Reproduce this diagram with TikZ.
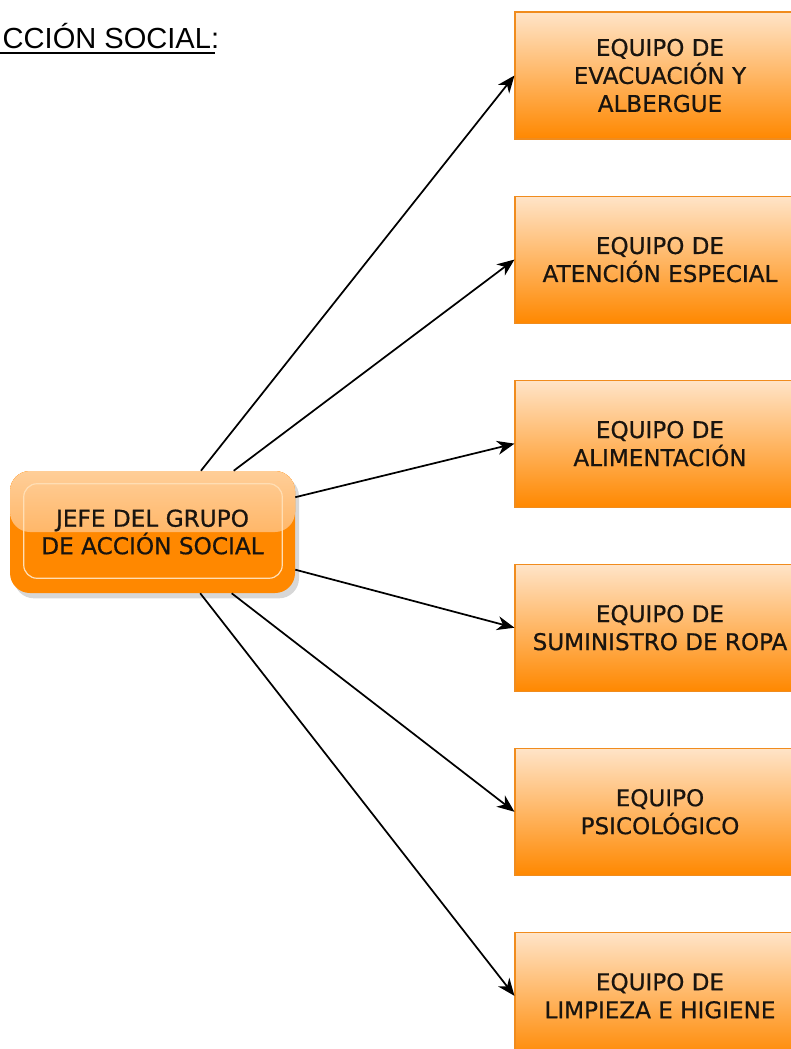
\documentclass[tikz,border=0pt]{standalone}
\usepackage{fontspec}
\setmainfont{DejaVu Sans}
\newfontfamily\cajafont{DejaVu Sans}[FakeBold=0.6]
\newfontfamily\arialfont{Liberation Sans}
\usetikzlibrary{arrows.meta,positioning,shadows}
\definecolor{eqborde}{RGB}{240,140,30}
\definecolor{eqclaro}{RGB}{255,228,200}
\definecolor{eqnaranja}{RGB}{255,136,0}
\definecolor{jfclaro}{RGB}{255,206,152}
\definecolor{jfmedio}{RGB}{255,160,58}
\definecolor{jfborde}{RGB}{255,222,180}
\definecolor{texto}{RGB}{25,20,15}

\begin{document}
\begin{tikzpicture}[x=0.75pt,y=-0.75pt,node distance=42pt,
      equipo/.style={draw=eqborde,line width=.8pt,top color=eqclaro,bottom color=eqnaranja,
        minimum width=217.5pt,minimum height=95.25pt,align=center,text=texto,
        font=\cajafont\fontsize{17.3}{21}\selectfont},
      jefe/.style={rounded corners=15pt,fill=eqnaranja,minimum width=213.75pt,minimum height=91.5pt,
        align=center,text=texto,font=\cajafont\fontsize{17.4}{19}\selectfont,
        drop shadow={shadow xshift=3pt,shadow yshift=-4pt,fill=black!35,opacity=.45},
        path picture={\fill[top color=jfclaro,bottom color=jfmedio]
          (path picture bounding box.north west) rectangle (path picture bounding box.east);}},
      flecha/.style={-{Stealth[length=13pt,width=10.5pt,inset=4pt]},line width=1.3pt}]
  \useasboundingbox (0,0) rectangle (790,1049);
  \node[anchor=base west,font=\arialfont\fontsize{21.8}{25}\selectfont] (titulo) at (-2,49)
    {CCIÓN SOCIAL:};
  \draw[line width=1.6pt] ([yshift=-3pt]titulo.base west) -- ([xshift=-7pt,yshift=-3pt]titulo.base east);
  \node[jefe] (jf) at (152.5,532) {JEFE DEL GRUPO\\DE ACCIÓN SOCIAL};
  \draw[jfborde,line width=.9pt,rounded corners=10pt]
    ([shift={(14,13)}]jf.north west) rectangle ([shift={(-13,-15)}]jf.south east);
  % equipos
  \node[equipo] (e1) at (660,75.5) {EQUIPO DE\\EVACUACIÓN Y\\ALBERGUE};
  \node[equipo,below=of e1] (e2) {EQUIPO DE\\ATENCIÓN ESPECIAL};
  \node[equipo,below=of e2] (e3) {EQUIPO DE\\ALIMENTACIÓN};
  \node[equipo,below=of e3] (e4) {EQUIPO DE\\SUMINISTRO DE ROPA};
  \node[equipo,below=of e4] (e5) {EQUIPO\\PSICOLÓGICO};
  \node[equipo,below=of e5] (e6) {EQUIPO DE\\LIMPIEZA E HIGIENE};
  \foreach \e in {e1,e2,e3,e4,e5,e6}
    \draw[flecha] (jf) -- (\e.west);
\end{tikzpicture}
\end{document}
